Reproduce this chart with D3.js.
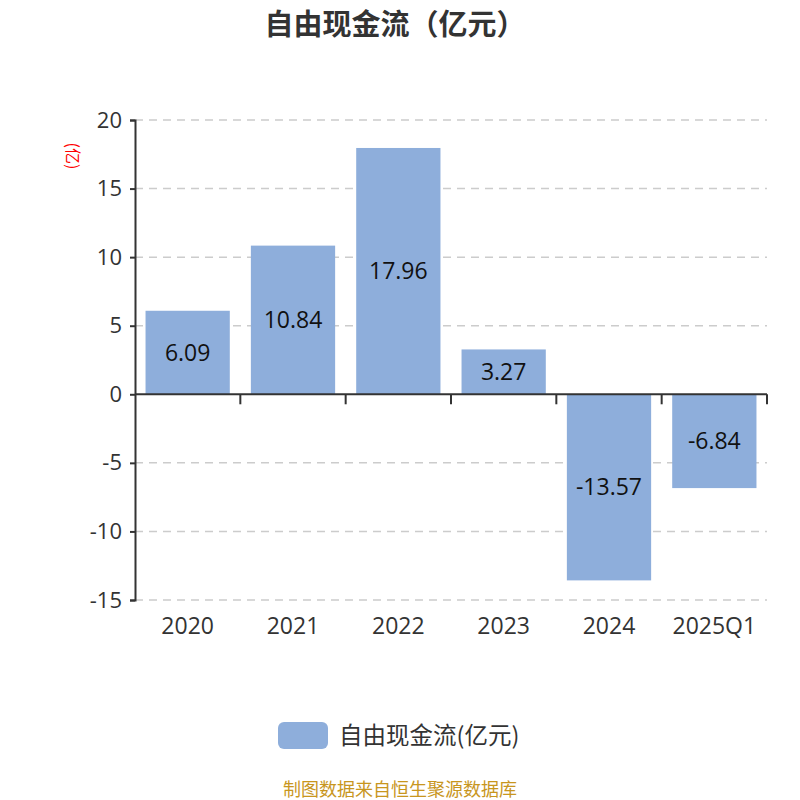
<!DOCTYPE html>
<html>
<head>
<meta charset="utf-8">
<script src="https://cdn.jsdelivr.net/npm/d3@7/dist/d3.min.js"></script>
<style>
  body { margin: 0; background: #fff; }
  svg text { font-family: "Open Sans", "Noto Sans CJK SC", sans-serif; }
</style>
</head>
<body>
<div id="chart"></div>
<script>
// données
var categories = ["2020", "2021", "2022", "2023", "2024", "2025Q1"];
var values = [6.09, 10.84, 17.96, 3.27, -13.57, -6.84];
var yTicks = [-15, -10, -5, 0, 5, 10, 15, 20];

(function () {
var width = 800, height = 800;
var mLeft = 135, mRight = 767, mTop = 120, mBottom = 600;
var barColor = "#8eaedb";
var cjk = '"Noto Sans CJK SC", sans-serif';

var svg = d3.select("#chart").append("svg")
    .attr("width", width)
    .attr("height", height);

var x = d3.scaleBand().domain(categories).range([mLeft, mRight]).paddingInner(0.2).paddingOuter(0.1);
var xb = d3.scaleBand().domain(categories).range([mLeft, mRight]);
var y = d3.scaleLinear().domain([-15, 20]).range([mBottom, mTop]);

// titre
svg.append("text")
    .attr("x", width / 2 - 5).attr("y", 35)
    .attr("text-anchor", "middle")
    .style("font-family", cjk)
    .style("font-size", "29px").style("font-weight", "bold")
    .attr("fill", "#333")
    .text("自由现金流（亿元）");

// grille
svg.selectAll(".grid")
    .data(yTicks.filter(d => d !== 0))
    .enter().append("line")
    .attr("x1", mLeft).attr("x2", mRight)
    .attr("y1", d => y(d)).attr("y2", d => y(d))
    .attr("stroke", "#ccc").attr("stroke-width", 1.5)
    .attr("stroke-dasharray", "8,6");

// barres
svg.selectAll(".bar")
    .data(values)
    .enter().append("rect")
    .attr("x", (d, i) => x(categories[i]))
    .attr("width", x.bandwidth())
    .attr("y", d => y(Math.max(0, d)))
    .attr("height", d => Math.abs(y(d) - y(0)))
    .attr("fill", barColor);

// étiquettes des valeurs
svg.selectAll(".lbl")
    .data(values)
    .enter().append("text")
    .attr("x", (d, i) => x(categories[i]) + x.bandwidth() / 2)
    .attr("y", d => (y(d) + y(0)) / 2 + 8)
    .attr("text-anchor", "middle")
    .style("font-size", "23px")
    .attr("fill", "#111")
    .text(d => d.toFixed(2));

// axe y
var yAxis = svg.append("g")
    .attr("transform", "translate(" + mLeft + ",0)")
    .call(d3.axisLeft(y).tickValues(yTicks).tickFormat(d => String(d)).tickSize(5).tickPadding(8));
yAxis.select(".domain").attr("stroke", "#333").attr("stroke-width", 2);
yAxis.selectAll(".tick line").attr("stroke", "#333").attr("stroke-width", 2);
yAxis.selectAll(".tick text")
    .style("font-size", "22px").attr("fill", "#333")
    .style("font-family", '"Open Sans", sans-serif');

// axe x (à zéro)
var xAxis = svg.append("g")
    .attr("transform", "translate(0," + y(0) + ")");
xAxis.append("line")
    .attr("x1", mLeft).attr("x2", mRight)
    .attr("stroke", "#333").attr("stroke-width", 2);
xAxis.selectAll(".xt")
    .data(categories.slice(1).concat(["_end"]))
    .enter().append("line")
    .attr("x1", (d, i) => i < categories.length - 1 ? xb(d) : mRight)
    .attr("x2", (d, i) => i < categories.length - 1 ? xb(d) : mRight)
    .attr("y1", 0).attr("y2", 10)
    .attr("stroke", "#333").attr("stroke-width", 2);

svg.selectAll(".xl")
    .data(categories)
    .enter().append("text")
    .attr("x", d => xb(d) + xb.bandwidth() / 2)
    .attr("y", 634)
    .attr("text-anchor", "middle")
    .style("font-size", "23px")
    .attr("fill", "#333")
    .text(d => d);

// unité
svg.append("text")
    .attr("transform", "translate(67,156) rotate(90)")
    .attr("text-anchor", "middle")
    .style("font-family", cjk)
    .style("font-size", "16px")
    .attr("fill", "red")
    .text("(亿)");

// légende
svg.append("rect")
    .attr("x", 278).attr("y", 722)
    .attr("width", 50).attr("height", 27)
    .attr("rx", 6)
    .attr("fill", barColor);
svg.append("text")
    .attr("x", 339).attr("y", 744)
    .style("font-family", cjk)
    .style("font-size", "23.5px")
    .attr("fill", "#333")
    .text("自由现金流(亿元)");

// source
svg.append("text")
    .attr("x", width / 2).attr("y", 796)
    .attr("text-anchor", "middle")
    .style("font-family", cjk)
    .style("font-size", "18px")
    .attr("fill", "#c8961e")
    .text("制图数据来自恒生聚源数据库");
})();
</script>
</body>
</html>
